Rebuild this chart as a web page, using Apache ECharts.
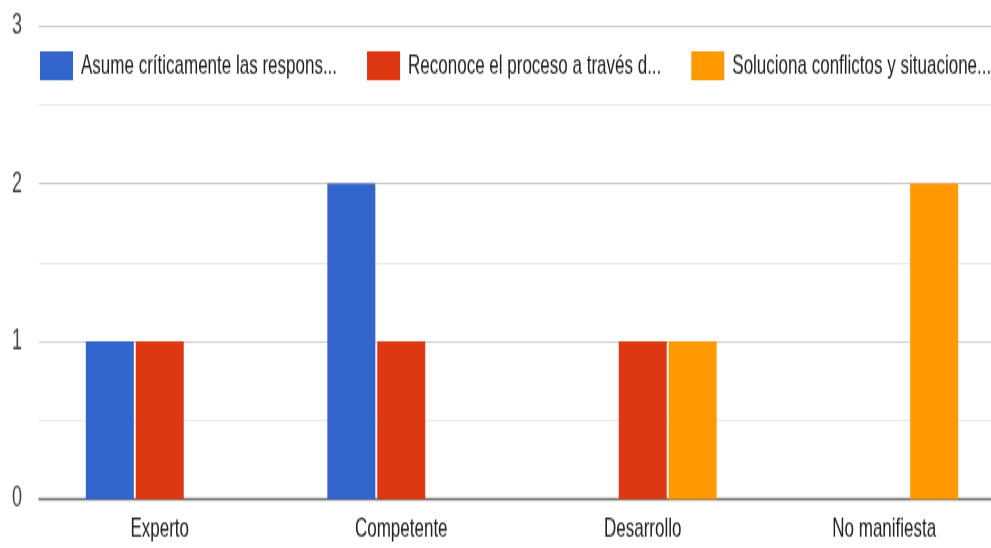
<!DOCTYPE html>
<html>
<head>
<meta charset="utf-8">
<script src="https://cdn.jsdelivr.net/npm/echarts@6/dist/echarts.min.js"></script>
<style>
html,body{margin:0;padding:0;background:#fff;overflow:hidden;width:991px;height:548px;}
#chart{width:991px;height:342px;transform:scaleY(1.6023);transform-origin:0 0;}
</style>
</head>
<body>
<div id="chart"></div>
<script>
const categories = ['Experto', 'Competente', 'Desarrollo', 'No manifiesta'];
const seriesNames = ['Asume críticamente las respons...', 'Reconoce el proceso a través d...', 'Soluciona conflictos y situacione...'];
const asumeValues = [1, 2, 0, 0];
const reconoceValues = [1, 1, 1, 0];
const solucionaValues = [0, 0, 1, 2];
const yTicks = [0, 1, 2, 3];
const colors = ['#3366cc', '#dc3912', '#ff9900'];

const font = '"Liberation Sans", Arial, sans-serif';
const chart = echarts.init(document.getElementById('chart'), null, {renderer: 'canvas'});
const data = [asumeValues, reconoceValues, solucionaValues];
chart.setOption({
  animation: false,
  color: colors,
  textStyle: {fontFamily: font},
  legend: {
    left: 35, top: 27, width: 1000,
    itemWidth: 33, itemHeight: 18, itemGap: 30,
    icon: 'rect',
    textStyle: {fontSize: 17, color: '#222', fontFamily: font, padding: [0, 0, 0, 3]},
    data: seriesNames
  },
  grid: {left: 39, width: 966, top: 16.2, bottom: 30.6, containLabel: false, outerBoundsMode: 'none'},
  xAxis: {
    type: 'category',
    data: categories,
    axisTick: {show: false},
    axisLine: {show: true, lineStyle: {color: '#666', width: 1.4}},
    axisLabel: {fontSize: 17, color: '#222', margin: 10, fontFamily: font}
  },
  yAxis: {
    type: 'value',
    min: yTicks[0], max: yTicks[yTicks.length - 1], interval: 1,
    axisLine: {show: false},
    axisTick: {show: false},
    axisLabel: {fontSize: 18, color: '#444', margin: 17, fontFamily: font},
    splitLine: {lineStyle: {color: '#cccccc', width: 1.2}},
    minorTick: {show: false, splitNumber: 2},
    minorSplitLine: {show: true, lineStyle: {color: '#ebebeb', width: 1.2}}
  },
  series: seriesNames.map((n, i) => ({
    name: n,
    type: 'bar',
    data: data[i],
    barWidth: 48,
    barGap: '4%',
    itemStyle: {color: colors[i]}
  }))
});
</script>
</body>
</html>
